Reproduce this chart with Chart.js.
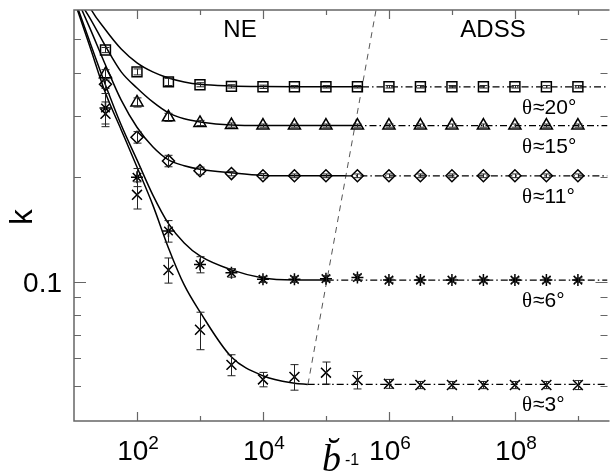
<!DOCTYPE html>
<html>
<head>
<meta charset="utf-8">
<script src="https://cdn.jsdelivr.net/npm/chart.js@4.4.0/dist/chart.umd.min.js"></script>
<style>
  html, body { margin: 0; padding: 0; background: #fff; overflow: hidden; }
  canvas { display: block; }
</style>
</head>
<body>
<canvas id="chart" width="616" height="475"></canvas>
<script>
// measured k, one point every half decade of b^-1
const bInv = [31.6, 100, 316, 1000, 3160, 1e4, 3.16e4, 1e5, 3.16e5, 1e6, 3.16e6, 1e7, 3.16e7, 1e8, 3.16e8, 1e9];

const k20 = [0.466, 0.403, 0.377, 0.370, 0.366, 0.365, 0.365, 0.365, 0.365, 0.365, 0.365, 0.365, 0.365, 0.365, 0.365, 0.365];
const k15 = [0.397, 0.329, 0.298, 0.287, 0.283, 0.282, 0.282, 0.282, 0.282, 0.282, 0.282, 0.282, 0.282, 0.282, 0.282, 0.282];
const k11 = [0.371, 0.261, 0.223, 0.209, 0.205, 0.202, 0.202, 0.202, 0.202, 0.202, 0.202, 0.202, 0.202, 0.202, 0.202, 0.202];
const k6 = [0.317, 0.200, 0.140, 0.112, 0.106, 0.1015, 0.1015, 0.102, 0.1027, 0.101, 0.101, 0.101, 0.101, 0.101, 0.101, 0.101];
const k3 = [0.305, 0.178, 0.108, 0.0726, 0.0575, 0.0522, 0.0531, 0.0546, 0.052, 0.0507, 0.0503, 0.0503, 0.0503, 0.0503, 0.0503, 0.0503];

// error bar half-heights
const err20 = [0.008, 0.008, 0.009, 0.005, 0.004, 0.004, 0.003, 0.003, 0.003, 0.003, 0.003, 0.003, 0.003, 0.003, 0.003, 0.003];
const err15 = [0.012, 0.010, 0.008, 0.005, 0.004, 0.003, 0.003, 0.003, 0.003, 0.003, 0.003, 0.003, 0.003, 0.003, 0.003, 0.003];
const err11 = [0.010, 0.010, 0.0085, 0.005, 0.003, 0.003, 0.0025, 0.0025, 0.0025, 0.0025, 0.0025, 0.0025, 0.0025, 0.0025, 0.0025, 0.0025];
const err6 = [0.032, 0.012, 0.010, 0.006, 0.003, 0.002, 0.002, 0.002, 0.002, 0.0015, 0.0015, 0.0015, 0.0015, 0.0015, 0.0015, 0.0015];
const err3 = [0.025, 0.016, 0.009, 0.009, 0.004, 0.0025, 0.0045, 0.004, 0.003, 0.0015, 0.0012, 0.0012, 0.0012, 0.0012, 0.0012, 0.0015];

const fitX = [10, 17.8, 31.6, 56.2, 100, 178, 316, 562, 1000, 3162, 1e4, 3.16e4];
const fit20 = [0.80, 0.620, 0.533, 0.469, 0.428, 0.403, 0.387, 0.377, 0.371, 0.367, 0.3655, 0.365];
const fit15 = [0.68, 0.577, 0.478, 0.403, 0.362, 0.330, 0.307, 0.295, 0.289, 0.283, 0.282, 0.282];
const fit11 = [0.685, 0.540, 0.422, 0.334, 0.279, 0.245, 0.2245, 0.216, 0.211, 0.206, 0.2025, 0.202];
const fit6 = [0.662, 0.492, 0.3696, 0.283, 0.2245, 0.178, 0.147, 0.1293, 0.1186, 0.1081, 0.1025, 0.1011];
const fit3 = [0.650, 0.478, 0.350, 0.274, 0.2142, 0.1665, 0.1251, 0.0978, 0.0818, 0.0606, 0.0535, 0.0509];

// where each fit meets the NE/ADSS boundary, and the level it keeps after
const fitEnd = [3.74e5, 2.89e5, 2.07e5, 1.03e5, 5.13e4];
const plateau = [0.365, 0.282, 0.202, 0.101, 0.0505];

// NE / ADSS boundary (dashed)
const boundaryX = [5.18e4, 6.4e5];
const boundaryK = [0.0505, 0.624];

const angleLabels = ['20', '15', '11', '6', '3'];
const xDecades = [1e2, 1e3, 1e4, 1e5, 1e6, 1e7, 1e8, 1e9];
const xLabeled = [1e2, 1e4, 1e6, 1e8];
const yMinor = [0.05, 0.06, 0.07, 0.08, 0.09, 0.2, 0.3, 0.4, 0.5];
const yLabeled = [0.1];

const X_MIN = 10, X_MAX = 2.95e9, Y_MIN = 0.0396, Y_MAX = 0.608;

const SANS = '"Liberation Sans", Arial, Helvetica, sans-serif';
const SERIF = '"Liberation Serif", "Times New Roman", serif';

const series = [
  { k: k20, err: err20, fit: fit20, style: 'rect', radius: 7 },
  { k: k15, err: err15, fit: fit15, style: 'triangle', radius: 7 },
  { k: k11, err: err11, fit: fit11, style: 'rectRot', radius: 6 },
  { k: k6, err: err6, fit: fit6, style: 'star', radius: 6 },
  { k: k3, err: err3, fit: fit3, style: 'crossRot', radius: 7 },
];

const datasets = [];
series.forEach((s, i) => {
  datasets.push({
    data: fitX.map((x, j) => ({ x, y: s.fit[j] })).concat([{ x: fitEnd[i], y: plateau[i] }]),
    showLine: true, borderColor: '#000', borderWidth: 1.5, pointRadius: 0,
    cubicInterpolationMode: 'monotone',
  });
  datasets.push({
    data: [{ x: fitEnd[i], y: plateau[i] }, { x: X_MAX, y: plateau[i] }],
    showLine: true, borderColor: '#000', borderWidth: 1.3, borderDash: [7, 3, 1.5, 3], pointRadius: 0,
  });
  datasets.push({
    data: bInv.map((x, j) => ({ x, y: s.k[j] })),
    errors: s.err,
    showLine: false, pointStyle: s.style, pointRadius: s.radius,
    pointBorderColor: '#000', pointBackgroundColor: 'rgba(0,0,0,0)', pointBorderWidth: 1.5,
  });
});
datasets.push({
  data: boundaryX.map((x, j) => ({ x, y: boundaryK[j] })),
  showLine: true, borderColor: '#555', borderWidth: 1, borderDash: [6, 5], pointRadius: 0,
});

const errorBars = {
  id: 'errorBars',
  afterDatasetsDraw(chart) {
    const { ctx, chartArea: a, scales: { x, y } } = chart;
    ctx.save();
    ctx.beginPath();
    ctx.rect(a.left, a.top, a.width, a.height);
    ctx.clip();
    ctx.strokeStyle = '#222';
    ctx.lineWidth = 1;
    chart.data.datasets.forEach((ds) => {
      if (!ds.errors) return;
      ds.data.forEach((p, j) => {
        const e = ds.errors[j];
        const px = Math.round(x.getPixelForValue(p.x)) + 0.5;
        const y1 = y.getPixelForValue(p.y - e);
        const y2 = y.getPixelForValue(p.y + e);
        ctx.beginPath();
        ctx.moveTo(px, y1); ctx.lineTo(px, y2);
        ctx.moveTo(px - 4, y1); ctx.lineTo(px + 4, y1);
        ctx.moveTo(px - 4, y2); ctx.lineTo(px + 4, y2);
        ctx.stroke();
      });
    });
    ctx.restore();
  },
};

const frame = {
  id: 'frame',
  afterDraw(chart) {
    const { ctx, chartArea: a, scales: { x, y } } = chart;
    ctx.save();
    ctx.strokeStyle = '#666';
    ctx.lineWidth = 1.5;
    ctx.beginPath();
    ctx.moveTo(a.right + 2, a.top); ctx.lineTo(a.left, a.top);
    ctx.lineTo(a.left, a.bottom); ctx.lineTo(a.right + 2, a.bottom);
    ctx.stroke();

    ctx.lineWidth = 1.2;
    ctx.beginPath();
    xDecades.forEach((v) => {
      const px = Math.round(x.getPixelForValue(v)) + 0.5;
      const len = xLabeled.includes(v) ? 9 : 5;
      ctx.moveTo(px, a.bottom); ctx.lineTo(px, a.bottom - len);
      ctx.moveTo(px, a.top); ctx.lineTo(px, a.top + len);
    });
    yMinor.concat(yLabeled).forEach((v) => {
      const py = Math.round(y.getPixelForValue(v)) + 0.5;
      const len = yLabeled.includes(v) ? 12 : 7;
      ctx.moveTo(a.left, py); ctx.lineTo(a.left + len, py);
      ctx.moveTo(a.right, py); ctx.lineTo(a.right - len, py);
    });
    ctx.stroke();

    // tick labels
    ctx.fillStyle = '#000';
    ctx.textBaseline = 'alphabetic';
    ctx.textAlign = 'left';
    xLabeled.forEach((v) => {
      const px = x.getPixelForValue(v);
      const exp = String(Math.round(Math.log10(v)));
      ctx.font = '28px ' + SANS;
      const w = ctx.measureText('10').width;
      ctx.font = '19px ' + SANS;
      const ew = ctx.measureText(exp).width;
      const start = px - (w + ew) / 2 + 1;
      ctx.font = '28px ' + SANS;
      ctx.fillText('10', start, 460);
      ctx.font = '19px ' + SANS;
      ctx.fillText(exp, start + w, 449);
    });
    ctx.font = '28px ' + SANS;
    ctx.textAlign = 'right';
    yLabeled.forEach((v) => {
      ctx.fillText(String(v), 62, y.getPixelForValue(v) + 10);
    });

    // axis titles
    ctx.save();
    ctx.translate(32, 217);
    ctx.rotate(-Math.PI / 2);
    ctx.textAlign = 'center';
    ctx.font = '31px ' + SANS;
    ctx.fillText('k', 0, 0);
    ctx.restore();

    ctx.textAlign = 'left';
    ctx.font = 'italic 38px ' + SERIF;
    ctx.fillText('b\u0306', 322, 471);
    ctx.font = '16px ' + SANS;
    ctx.fillText('-1', 345, 465);

    // region labels
    ctx.font = '24px ' + SANS;
    ctx.textAlign = 'center';
    ctx.fillText('NE', 240, 37);
    ctx.fillText('ADSS', 493, 37);

    // angle labels under each plateau
    ctx.textAlign = 'left';
    plateau.forEach((k, i) => {
      const base = y.getPixelForValue(k) + 27;
      ctx.font = '21px ' + SERIF;
      ctx.fillText('\u03b8', 522, base);
      const tw = ctx.measureText('\u03b8').width;
      ctx.font = '21px ' + SANS;
      ctx.fillText('\u2248' + angleLabels[i] + '\u00b0', 522 + tw + 1, base);
    });
    ctx.restore();
  },
};

new Chart(document.getElementById('chart'), {
  type: 'scatter',
  data: { datasets },
  options: {
    responsive: false,
    animation: false,
    events: [],
    layout: { padding: { left: 74, top: 10, right: 0, bottom: 54 } },
    plugins: { legend: { display: false }, tooltip: { enabled: false } },
    scales: {
      x: { type: 'logarithmic', min: X_MIN, max: X_MAX, display: false },
      y: { type: 'logarithmic', min: Y_MIN, max: Y_MAX, display: false },
    },
  },
  plugins: [errorBars, frame],
});
</script>
</body>
</html>
